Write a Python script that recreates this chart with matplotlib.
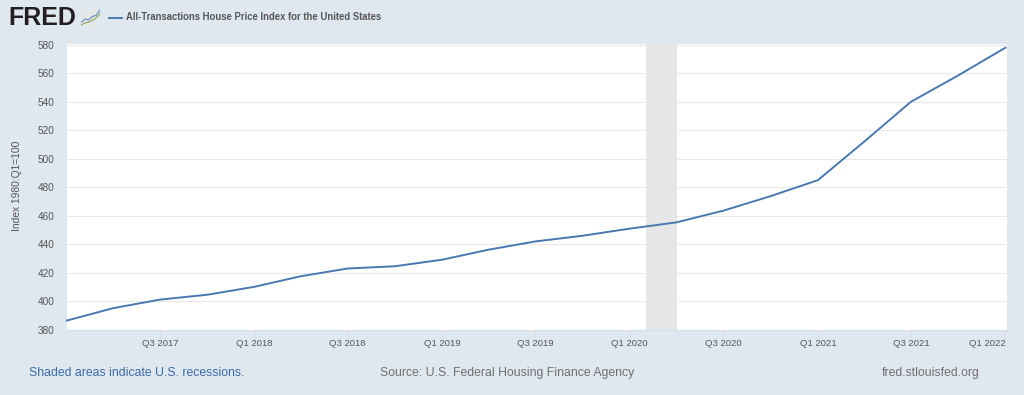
import matplotlib
matplotlib.use('Agg')
import matplotlib.pyplot as plt
import matplotlib.dates as mdates
from datetime import date

plt.rcParams['font.family'] = ['Liberation Sans', 'DejaVu Sans']

# quarterly index values
quarters = [date(y, m, 1) for y in range(2017, 2022) for m in (1, 4, 7, 10)] + [date(2022, 1, 1)]
hpi = [386.5, 395.2, 401.2, 404.6, 410.2, 417.6, 423.0, 424.6, 429.2, 436.2, 442.0,
       446.0, 451.0, 455.4, 463.6, 473.8, 485.0, 512.0, 540.0, 558.5, 578.0]

tick_dates = [date(2017, 7, 1), date(2018, 1, 1), date(2018, 7, 1), date(2019, 1, 1),
              date(2019, 7, 1), date(2020, 1, 1), date(2020, 7, 1), date(2021, 1, 1),
              date(2021, 7, 1), date(2022, 1, 1)]
tick_labels = ['Q3 2017', 'Q1 2018', 'Q3 2018', 'Q1 2019', 'Q3 2019',
               'Q1 2020', 'Q3 2020', 'Q1 2021', 'Q3 2021', 'Q1 2022']
y_ticks = list(range(380, 581, 20))
recession = (date(2020, 2, 1), date(2020, 4, 1))

# logo sparklines, in icon units
icon_x = [0, 1, 2, 3, 4, 5]
icon_blue = [1.4, 2.4, 2.2, 3.2, 3.6, 5.2]
icon_green = [0.6, 1.2, 1.5, 2.0, 2.8, 4.0]

BG = '#dfe7ef'
LINE = '#4a78b0'
W, H = 1024, 395

fig = plt.figure(figsize=(W / 100, H / 100), dpi=100, facecolor=BG)
ax = fig.add_axes([67 / W, 1 - 329.8 / H, (1006.5 - 67) / W, (329.8 - 43.8) / H])
ax.set_facecolor('white')

ax.axvspan(*recession, color='#e6e6e6', lw=0, zorder=1)
ax.plot(quarters, hpi, color=LINE, lw=1.4, zorder=3, solid_joinstyle='round', clip_on=False)

ax.set_xlim(date(2017, 1, 1), date(2022, 1, 3))
ax.set_ylim(380, 580.7)
ax.set_yticks(y_ticks)
ax.grid(axis='y', color='#e9e9e9', lw=0.75, zorder=0)
ax.set_axisbelow(True)

ax.set_xticks([mdates.date2num(d) for d in tick_dates])
ax.set_xticklabels(tick_labels)
ax.tick_params(axis='x', length=6.5, width=0.7, color='#d3ddeb', labelsize=6.8,
               labelcolor='#555555', pad=0)
ax.tick_params(axis='y', length=0, labelsize=7.2, labelcolor='#555555', pad=9)
labels = ax.get_xticklabels()
labels[-1].set_ha('right')
for s in ('top', 'left', 'right'):
    ax.spines[s].set_visible(False)
ax.spines['bottom'].set_color('#d3ddeb')
ax.spines['bottom'].set_linewidth(0.7)

fig.text(17 / W, 1 - 186 / H, 'Index 1980:Q1=100', rotation=90, ha='center', va='center',
         fontsize=7.4, color='#555555')

# header
fig.text(8 / W, 1 - 18 / H, 'FRED', fontsize=18, fontweight='bold', color='#231f20',
         ha='left', va='center')
icon = fig.add_axes([81 / W, 1 - 27 / H, 19 / W, 18 / H])
icon.set_facecolor('#e4e8e8')
icon.plot(icon_x, icon_blue, color='#6f94c2', lw=0.9)
icon.plot(icon_x, icon_green, color='#8fb06a', lw=0.9)
icon.set_xlim(0, 5)
icon.set_ylim(0, 5.5)
icon.set_xticks([])
icon.set_yticks([])
for s in icon.spines.values():
    s.set_visible(False)
fig.add_artist(plt.Line2D([108.5 / W, 122 / W], [1 - 17.5 / H] * 2, color=LINE, lw=1.4))
fig.text(126.5 / W, 1 - 17.5 / H, 'All-Transactions House Price Index for the United States',
         fontsize=6.87, fontweight='bold', color='#555555', ha='left', va='center')

# footer
fig.text(29 / W, 1 - 373 / H, 'Shaded areas indicate U.S. recessions.', fontsize=8.8,
         color='#3b6ba5', ha='left', va='center')
fig.text(380.5 / W, 1 - 373 / H, 'Source: U.S. Federal Housing Finance Agency', fontsize=8.8,
         color='#707070', ha='left', va='center')
fig.text(882 / W, 1 - 373 / H, 'fred.stlouisfed.org', fontsize=8.8,
         color='#707070', ha='left', va='center')

fig.savefig('out.png', dpi=100, facecolor=BG)
